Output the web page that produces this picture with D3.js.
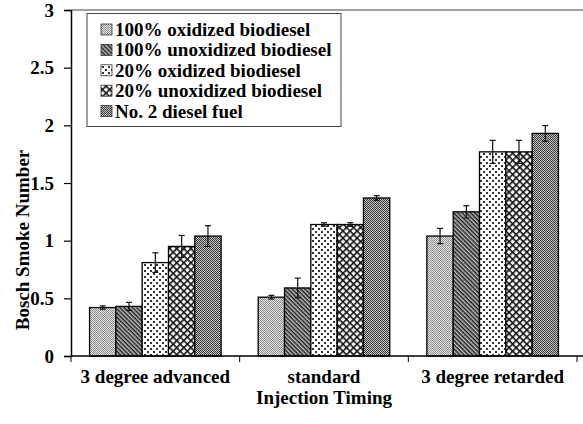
<!DOCTYPE html>
<html><head><meta charset="utf-8">
<script src="https://cdn.jsdelivr.net/npm/d3@7"></script>
<style>body{margin:0;background:#fff}svg{display:block}</style>
</head><body>
<script>
const categories = ["3 degree advanced", "standard", "3 degree retarded"];
const seriesNames = ["100% oxidized biodiesel", "100% unoxidized biodiesel", "20% oxidized biodiesel", "20% unoxidized biodiesel", "No. 2 diesel fuel"];
const values = [
  [0.42, 0.51, 1.04],
  [0.43, 0.59, 1.25],
  [0.81, 1.14, 1.77],
  [0.95, 1.14, 1.77],
  [1.04, 1.37, 1.93]
];
const errors = [
  [0.015, 0.016, 0.066],
  [0.035, 0.085, 0.053],
  [0.085, 0.015, 0.10],
  [0.095, 0.016, 0.10],
  [0.09, 0.02, 0.068]
];
const yTicks = [0, 0.5, 1, 1.5, 2, 2.5, 3];
const yTickLabels = ["0", "0.5", "1", "1.5", "2", "2.5", "3"];

const FONT = '"Liberation Serif", "Times New Roman", serif';
const FS = 19;
const W = 583, H = 424;
const left = 71, right = 577, y0 = 356, yTop = 10;
const svg = d3.select("body").append("svg").attr("width", W).attr("height", H);
const defs = svg.append("defs");

function pat(id, w, h, build) {
  const p = defs.append("pattern").attr("id", id).attr("patternUnits", "userSpaceOnUse").attr("width", w).attr("height", h);
  build(p);
  return p;
}
pat("p0", 2, 2, p => {
  p.append("rect").attr("width", 2).attr("height", 2).attr("fill", "#e2e2e2");
  p.append("rect").attr("x", 0).attr("y", 0).attr("width", 1).attr("height", 1).attr("fill", "#909090");
  p.append("rect").attr("x", 1).attr("y", 1).attr("width", 1).attr("height", 1).attr("fill", "#909090");
});
pat("p1", 3, 3, p => {
  p.attr("patternTransform", "rotate(45)");
  p.append("rect").attr("width", 3).attr("height", 3).attr("fill", "#bbb");
  p.append("rect").attr("x", 0).attr("y", 0).attr("width", 3).attr("height", 1.5).attr("fill", "#222");
});
pat("p2", 6, 6, p => {
  p.append("rect").attr("width", 6).attr("height", 6).attr("fill", "#fff");
  p.append("rect").attr("x", 0).attr("y", 0).attr("width", 2).attr("height", 2).attr("fill", "#333");
  p.append("rect").attr("x", 3).attr("y", 3).attr("width", 2).attr("height", 2).attr("fill", "#333");
});
pat("p3", 5, 5, p => {
  p.attr("patternTransform", "rotate(45)");
  p.append("rect").attr("width", 5).attr("height", 5).attr("fill", "#fff");
  p.append("rect").attr("x", 0).attr("y", 0).attr("width", 5).attr("height", 1.6).attr("fill", "#111");
  p.append("rect").attr("x", 0).attr("y", 0).attr("width", 1.6).attr("height", 5).attr("fill", "#111");
});
pat("p4", 2, 2, p => {
  p.append("rect").attr("width", 2).attr("height", 2).attr("fill", "#c4c4c4");
  p.append("rect").attr("x", 0).attr("y", 0).attr("width", 1).attr("height", 1).attr("fill", "#3a3a3a");
  p.append("rect").attr("x", 1).attr("y", 1).attr("width", 1).attr("height", 1).attr("fill", "#3a3a3a");
});
const fills = ["url(#p0)", "url(#p1)", "url(#p2)", "url(#p3)", "url(#p4)"];

const x0 = d3.scaleBand().domain(categories).range([left, right]).paddingInner(0.22).paddingOuter(0.11);
const x1 = d3.scaleBand().domain(d3.range(seriesNames.length)).range([0, x0.bandwidth()]);
const y = d3.scaleLinear().domain([0, 3]).range([y0, yTop]);
const xb = d3.scaleBand().domain(categories).range([left, right]);

// bars
const g = svg.append("g");
seriesNames.forEach((s, si) => {
  categories.forEach((c, ci) => {
    const v = values[si][ci];
    g.append("rect")
      .attr("x", x0(c) + x1(si))
      .attr("y", y(v))
      .attr("width", x1.bandwidth())
      .attr("height", y(0) - y(v))
      .attr("fill", fills[si])
      .attr("stroke", "#000").attr("stroke-width", 1.3);
  });
});
// error bars
seriesNames.forEach((s, si) => {
  categories.forEach((c, ci) => {
    const v = values[si][ci], e = errors[si][ci];
    const cx = x0(c) + x1(si) + x1.bandwidth() / 2;
    const eg = g.append("g").attr("stroke", "#111").attr("stroke-width", 1.2);
    eg.append("line").attr("x1", cx).attr("x2", cx).attr("y1", y(v + e)).attr("y2", y(v - e));
    eg.append("line").attr("x1", cx - 3).attr("x2", cx + 3).attr("y1", y(v + e)).attr("y2", y(v + e));
    eg.append("line").attr("x1", cx - 3).attr("x2", cx + 3).attr("y1", y(v - e)).attr("y2", y(v - e));
  });
});

function txt(sel) { return sel.style("font-family", FONT).style("font-weight", "bold").style("font-size", FS + "px").attr("fill", "#000"); }

// axes
const ya = svg.append("g").attr("transform", `translate(${left},0)`)
  .call(d3.axisLeft(y).tickValues(yTicks).tickFormat((d, i) => yTickLabels[i]).tickSize(7).tickPadding(10));
ya.select(".domain").attr("stroke", "#000").attr("stroke-width", 1.5);
ya.selectAll(".tick line").attr("stroke", "#000").attr("stroke-width", 1.2);
txt(ya.selectAll("text"));

const xa = svg.append("g").attr("transform", `translate(0,${y0})`)
  .call(d3.axisBottom(xb).tickSize(0).tickPadding(13.5));
xa.select(".domain").remove();
txt(xa.selectAll("text"));
svg.append("line").attr("x1", left).attr("x2", 583).attr("y1", y0).attr("y2", y0).attr("stroke", "#000").attr("stroke-width", 1.5);
svg.append("line").attr("x1", left).attr("x2", 583).attr("y1", yTop).attr("y2", yTop).attr("stroke", "#444").attr("stroke-width", 1.2);
const bounds = categories.map(c => xb(c)).concat([xb(categories[2]) + xb.bandwidth()]);
svg.selectAll(".bt").data(bounds).enter().append("line")
  .attr("x1", d => d).attr("x2", d => d).attr("y1", y0).attr("y2", y0 + 6)
  .attr("stroke", "#000").attr("stroke-width", 1);

// axis titles
txt(svg.append("text")).attr("x", (left + right) / 2).attr("y", 404).attr("text-anchor", "middle").text("Injection Timing");
txt(svg.append("text")).attr("transform", "translate(29,240) rotate(-90)").attr("text-anchor", "middle").text("Bosch Smoke Number");

// legend
const lg = svg.append("g");
lg.append("rect").attr("x", 87).attr("y", 13.5).attr("width", 254).attr("height", 113).attr("fill", "#fff").attr("stroke", "#444").attr("stroke-width", 1);
seriesNames.forEach((s, i) => {
  const yy = 29.5 + i * 20.4;
  lg.append("rect").attr("x", 101).attr("y", yy - 5.5).attr("width", 11).attr("height", 11).attr("fill", fills[i]).attr("stroke", "#333").attr("stroke-width", 0.8);
  txt(lg.append("text")).attr("x", 115).attr("y", yy + 6.5).text(s);
});
</script>
</body></html>
